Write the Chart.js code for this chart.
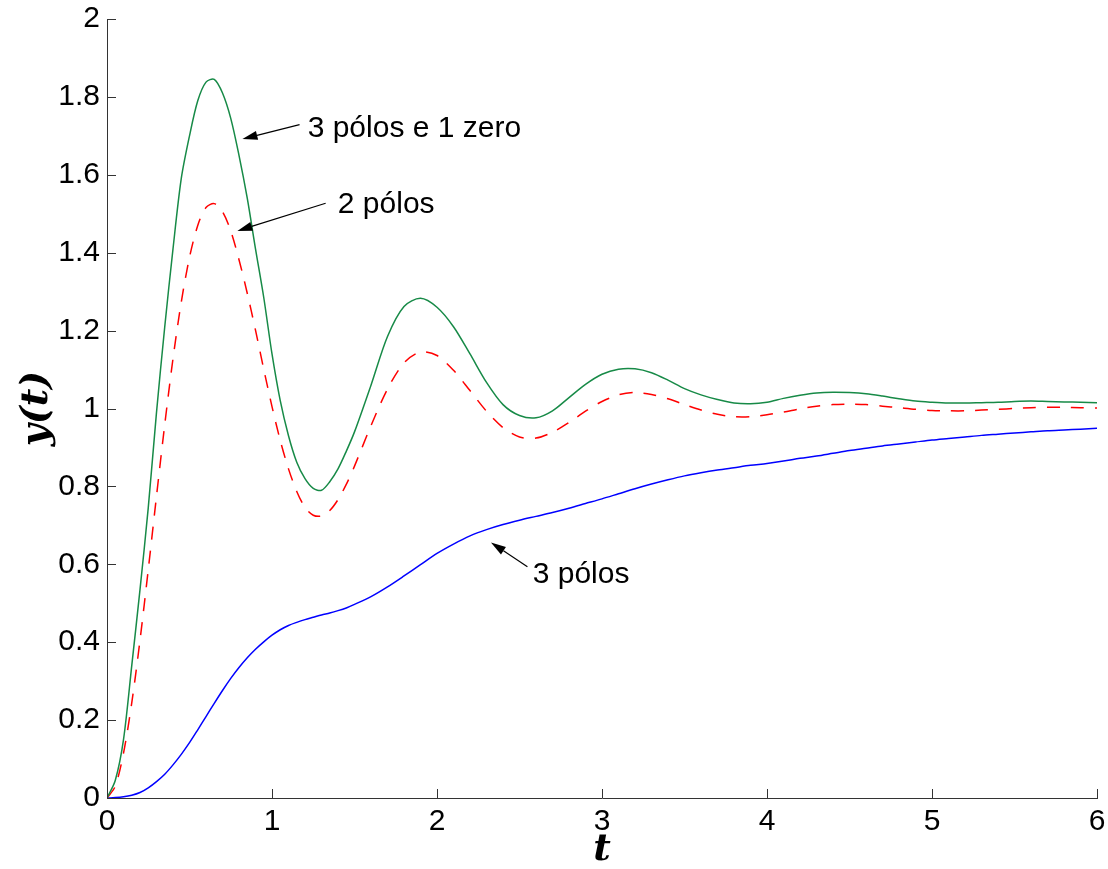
<!DOCTYPE html>
<html>
<head>
<meta charset="utf-8">
<script src="https://cdn.jsdelivr.net/npm/chart.js@4.4.0/dist/chart.umd.min.js"></script>
<style>
  body { margin: 0; background: #fff; }
  #wrap { width: 1108px; height: 869px; }
</style>
</head>
<body>
<div id="wrap"><canvas id="grafico" width="1108" height="869"></canvas></div>
<script>
// tempo (s)
const tempo = [
  0, 0.05, 0.1, 0.15, 0.2, 0.25, 0.3, 0.35, 0.4, 0.45, 0.5, 0.55, 0.6, 0.65, 0.7, 0.75,
  0.8, 0.85, 0.9, 0.95, 1.0, 1.05, 1.1, 1.15, 1.2, 1.25, 1.3, 1.35, 1.4, 1.45, 1.5,
  1.6, 1.7, 1.8, 1.9, 2.0, 2.1, 2.2, 2.3, 2.4, 2.5, 2.6, 2.7, 2.8, 2.9, 3.0,
  3.1, 3.2, 3.3, 3.4, 3.5, 3.6, 3.7, 3.8, 3.9, 4.0, 4.1, 4.2, 4.3, 4.4, 4.5,
  4.6, 4.7, 4.8, 4.9, 5.0, 5.1, 5.2, 5.3, 5.4, 5.5, 5.6, 5.7, 5.8, 5.9, 6.0
];

// 3 pólos e 1 zero (verde)
const tresPolosUmZero = [
  0, 0.045, 0.15, 0.34, 0.535, 0.745, 0.99, 1.21, 1.41, 1.59, 1.70, 1.79, 1.838, 1.845, 1.81, 1.745,
  1.65, 1.54, 1.41, 1.285, 1.14, 1.02, 0.93, 0.862, 0.82, 0.795, 0.79, 0.812, 0.845, 0.89, 0.94,
  1.06, 1.185, 1.262, 1.283, 1.26, 1.21, 1.14, 1.067, 1.01, 0.982, 0.976, 0.994, 1.028, 1.062, 1.088,
  1.101, 1.102, 1.092, 1.073, 1.051, 1.035, 1.023, 1.014, 1.012, 1.016, 1.026, 1.034, 1.040, 1.042, 1.041,
  1.038, 1.032, 1.025, 1.019, 1.016, 1.014, 1.014, 1.015, 1.016, 1.018, 1.019, 1.018, 1.017, 1.016, 1.015
];

// 2 pólos (vermelho tracejado)
const doisPolos = [
  0, 0.030, 0.115, 0.244, 0.405, 0.586, 0.775, 0.959, 1.128, 1.273, 1.388, 1.470, 1.516, 1.526, 1.505, 1.456,
  1.382, 1.296, 1.201, 1.101, 1.005, 0.918, 0.845, 0.787, 0.746, 0.726, 0.724, 0.738, 0.766, 0.805, 0.852,
  0.956, 1.050, 1.117, 1.145, 1.136, 1.098, 1.046, 0.993, 0.951, 0.927, 0.924, 0.939, 0.964, 0.993, 1.018,
  1.035, 1.041, 1.036, 1.025, 1.010, 0.996, 0.985, 0.979, 0.979, 0.984, 0.991, 0.999, 1.006, 1.010, 1.011,
  1.010, 1.006, 1.002, 0.998, 0.995, 0.994, 0.994, 0.996, 0.998, 1.000, 1.002, 1.003, 1.003, 1.002, 1.001
];

// 3 pólos (azul)
const tresPolos = [
  0, 0.001, 0.003, 0.007, 0.014, 0.026, 0.042, 0.061, 0.085, 0.112, 0.142, 0.175, 0.209, 0.243, 0.276, 0.307,
  0.335, 0.36, 0.382, 0.401, 0.418, 0.432, 0.443, 0.451, 0.458, 0.464, 0.47, 0.475, 0.481, 0.488, 0.497,
  0.517, 0.542, 0.57, 0.599, 0.628, 0.652, 0.673, 0.689, 0.702, 0.713, 0.723, 0.733, 0.744, 0.756, 0.768,
  0.781, 0.794, 0.806, 0.817, 0.827, 0.835, 0.842, 0.848, 0.854, 0.859, 0.865, 0.872, 0.878, 0.885, 0.892,
  0.898, 0.904, 0.909, 0.914, 0.919, 0.923, 0.927, 0.931, 0.934, 0.937, 0.940, 0.943, 0.945, 0.947, 0.949
];

// rótulos com seta (em unidades dos eixos)
const notas = [
  { texto: '3 pólos e 1 zero', tx: 1.216, ty: 1.698, de: [1.167, 1.729], para: [0.821, 1.692] },
  { texto: '2 pólos', tx: 1.399, ty: 1.501, de: [1.325, 1.527], para: [0.79, 1.456] },
  { texto: '3 pólos', tx: 2.58, ty: 0.552, de: [2.548, 0.594], para: [2.327, 0.656] }
];

const fonte = '"Liberation Sans", Arial, Helvetica, sans-serif';

function pontos(ys) {
  return tempo.map((t, i) => ({ x: t, y: ys[i] }));
}

// ticks para dentro + setas com texto
const extras = {
  id: 'extras',
  afterDatasetsDraw(chart) {
    const ctx = chart.ctx;
    const sx = chart.scales.x, sy = chart.scales.y;
    const area = chart.chartArea;
    ctx.save();
    ctx.strokeStyle = '#333';
    ctx.lineWidth = 1;
    ctx.beginPath();
    sx.ticks.forEach(tk => {
      const px = Math.round(sx.getPixelForValue(tk.value)) + 0.5;
      ctx.moveTo(px, area.bottom);
      ctx.lineTo(px, area.bottom - 9);
    });
    sy.ticks.forEach(tk => {
      const py = Math.round(sy.getPixelForValue(tk.value)) + 0.5;
      ctx.moveTo(area.left, py);
      ctx.lineTo(area.left + 9, py);
    });
    ctx.stroke();

    ctx.fillStyle = '#000';
    ctx.strokeStyle = '#000';
    ctx.font = '30px ' + fonte;
    ctx.textBaseline = 'alphabetic';
    ctx.textAlign = 'left';
    notas.forEach(n => {
      const x0 = sx.getPixelForValue(n.de[0]), y0 = sy.getPixelForValue(n.de[1]);
      const x1 = sx.getPixelForValue(n.para[0]), y1 = sy.getPixelForValue(n.para[1]);
      const ang = Math.atan2(y1 - y0, x1 - x0);
      const comp = 15, larg = 4.5;
      const bx = x1 - comp * Math.cos(ang), by = y1 - comp * Math.sin(ang);
      ctx.lineWidth = 1.2;
      ctx.beginPath();
      ctx.moveTo(x0, y0);
      ctx.lineTo(bx, by);
      ctx.stroke();
      ctx.beginPath();
      ctx.moveTo(x1, y1);
      ctx.lineTo(bx + larg * Math.sin(ang), by - larg * Math.cos(ang));
      ctx.lineTo(bx - larg * Math.sin(ang), by + larg * Math.cos(ang));
      ctx.closePath();
      ctx.fill();
      ctx.fillText(n.texto, sx.getPixelForValue(n.tx), sy.getPixelForValue(n.ty));
    });
    ctx.restore();
  }
};

new Chart(document.getElementById('grafico'), {
  type: 'line',
  data: {
    datasets: [
      {
        label: '3 pólos e 1 zero',
        data: pontos(tresPolosUmZero),
        borderColor: '#178a47',
        borderWidth: 1.5,
        pointRadius: 0,
        tension: 0.3
      },
      {
        label: '2 pólos',
        data: pontos(doisPolos),
        borderColor: '#ff0000',
        borderWidth: 1.5,
        borderDash: [13, 11],
        pointRadius: 0,
        tension: 0.3
      },
      {
        label: '3 pólos',
        data: pontos(tresPolos),
        borderColor: '#0000ff',
        borderWidth: 1.5,
        pointRadius: 0,
        tension: 0.3
      }
    ]
  },
  options: {
    responsive: false,
    animation: false,
    layout: { padding: { top: 19, right: 11, left: 0, bottom: 0 } },
    plugins: {
      legend: { display: false },
      tooltip: { enabled: false }
    },
    scales: {
      x: {
        type: 'linear',
        min: 0,
        max: 6,
        afterFit: s => { s.height = 71; s.paddingLeft = 0; s.paddingRight = 0; },
        ticks: { stepSize: 1, color: '#000', padding: 6, maxRotation: 0, font: { family: fonte, size: 30 } },
        grid: { drawOnChartArea: false, drawTicks: false },
        border: { display: true, color: '#333', width: 1 },
        title: {
          display: true,
          text: 't',
          color: '#000',
          padding: 0,
          font: { family: '"DejaVu Serif", serif', size: 38, style: 'italic', weight: 'bold', lineHeight: 1 }
        }
      },
      y: {
        min: 0,
        max: 2,
        afterFit: s => { s.width = 107; s.paddingTop = 0; s.paddingBottom = 0; },
        ticks: {
          stepSize: 0.2,
          color: '#000',
          padding: 7,
          font: { family: fonte, size: 30 },
          callback: v => Math.round(v * 10) / 10
        },
        grid: { drawOnChartArea: false, drawTicks: false },
        border: { display: true, color: '#333', width: 1 },
        title: {
          display: true,
          text: 'y(t)',
          color: '#000',
          padding: { top: 18, bottom: 0 },
          font: { family: '"DejaVu Serif", serif', size: 38, style: 'italic', weight: 'bold', lineHeight: 1 }
        }
      }
    }
  },
  plugins: [extras]
});
</script>
</body>
</html>
